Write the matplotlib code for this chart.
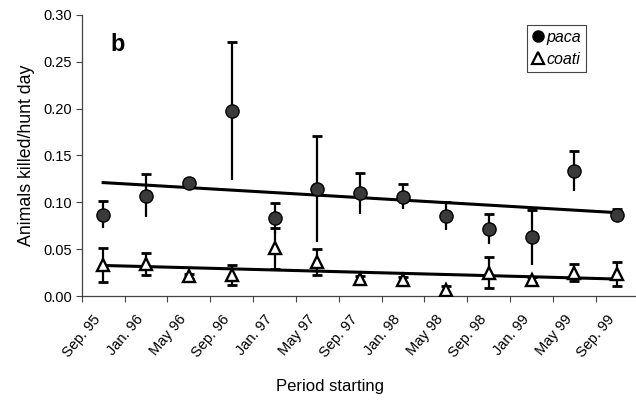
import numpy as np
import matplotlib
matplotlib.use("Agg")
import matplotlib.pyplot as plt
import matplotlib.transforms as mtrans
from matplotlib.lines import Line2D

plt.rcParams['font.family'] = ['Liberation Sans', 'DejaVu Sans']

periods = ["Sep. 95", "Jan. 96", "May 96", "Sep. 96", "Jan. 97", "May 97", "Sep. 97",
           "Jan. 98", "May 98", "Sep. 98", "Jan. 99", "May 99", "Sep. 99"]

paca = [0.087, 0.107, 0.121, 0.1975, 0.0836, 0.1142, 0.1096,
        0.106, 0.0854, 0.0715, 0.0626, 0.1335, 0.0865]
paca_err = [0.014, 0.023, 0.004, 0.074, 0.016, 0.057, 0.022,
            0.0135, 0.015, 0.016, 0.029, 0.021, 0.006]

coati = [0.033, 0.034, 0.021, 0.0224, 0.051, 0.0366, 0.018,
         0.017, 0.0064, 0.0249, 0.017, 0.0249, 0.0235]
coati_err = [0.018, 0.012, 0.003, 0.011, 0.022, 0.014, 0.003,
             0.003, 0.004, 0.0165, 0.003, 0.009, 0.013]

x = np.arange(1, len(periods) + 1)
paca = np.array(paca)
coati = np.array(coati)
paca_err = np.array(paca_err)
coati_err = np.array(coati_err)

fig = plt.figure(figsize=(6.36, 4.0), dpi=100)
ax = fig.add_axes([81.7 / 636, 104 / 400, 557 / 636, 281 / 400])

# linear trend lines
for y in (paca, coati):
    slope, icpt = np.polyfit(x, y, 1)
    ax.plot([x[0], x[-1]], [icpt + slope * x[0], icpt + slope * x[-1]],
            color='black', lw=2.2, zorder=2)

# paca: bars with cap on top only
ax.errorbar(x, paca, yerr=paca_err, fmt='none', ecolor='black',
            elinewidth=1.6, capsize=0, zorder=3)
ax.plot(x, paca + paca_err, linestyle='none', marker='_', ms=7,
        mew=2.0, color='black', zorder=3)
ax.plot(x, paca, linestyle='none', marker='o', ms=9.5, mfc='#3a3a3a',
        mec='black', mew=1.0, zorder=4)

# coati: caps on both ends
ax.errorbar(x, coati, yerr=coati_err, fmt='none', ecolor='black',
            elinewidth=1.6, capsize=3.5, capthick=2.0, zorder=3)
ax.plot(x, coati, linestyle='none', marker='^', ms=9, mfc='white',
        mec='black', mew=1.7, zorder=4)

ax.set_xlim(0.5, len(periods) + 0.5)
ax.set_ylim(0, 0.30)
ax.set_yticks(np.arange(0, 0.301, 0.05))
ax.set_yticklabels([f"{v:.2f}" for v in np.arange(0, 0.301, 0.05)])

ax.set_xticks(np.arange(0.5, len(periods) + 1, 1.0))
ax.set_xticklabels([])
ax.set_xticks(x, minor=True)
ax.set_xticklabels(periods, minor=True, rotation=50, ha='right', va='center',
                   rotation_mode='anchor', fontsize=10.5)
ax.tick_params(axis='x', which='minor', length=0, pad=15)
ax.tick_params(axis='x', which='major', length=4, width=0.8, color='#444444')
ax.tick_params(axis='y', length=4, width=0.8, color='#444444', labelsize=10.5, pad=3)

# nudge the slanted labels a little to the left
shift = mtrans.ScaledTranslation(-5 / 100, 0, fig.dpi_scale_trans)
for lbl in ax.get_xticklabels(minor=True):
    lbl.set_transform(lbl.get_transform() + shift)

for side in ('top', 'right'):
    ax.spines[side].set_visible(False)
for side in ('left', 'bottom'):
    ax.spines[side].set_color('#444444')
    ax.spines[side].set_linewidth(0.9)

ax.set_ylabel("Animals killed/hunt day", fontsize=12.8, labelpad=6)
fig.text(330 / 636, 1 - 386 / 400, "Period starting", fontsize=12,
         ha='center', va='center')

ax.text(0.065, 0.895, "b", transform=ax.transAxes, fontsize=17,
        fontweight='bold', ha='center', va='center')

handles = [
    Line2D([], [], linestyle='none', marker='o', ms=8, mfc='black', mec='black'),
    Line2D([], [], linestyle='none', marker='^', ms=8, mfc='white', mec='black', mew=1.6),
]
leg = ax.legend(handles, ["paca", "coati"], loc='upper left',
                bbox_to_anchor=(0.80, 0.965), frameon=True, fancybox=False,
                edgecolor='#444444', framealpha=1, handlelength=0.7,
                handletextpad=0.2, borderpad=0.3, labelspacing=0.45,
                borderaxespad=0, prop={'style': 'italic', 'size': 11.5})
leg.get_frame().set_linewidth(0.8)

fig.savefig("out.png", dpi=100)
